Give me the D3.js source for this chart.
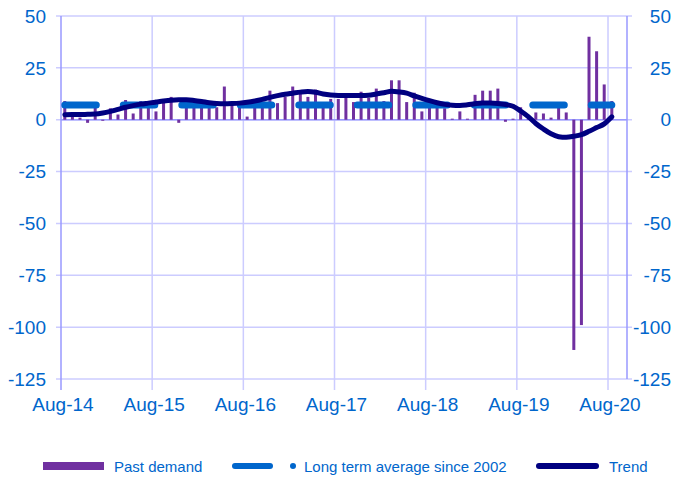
<!DOCTYPE html>
<html>
<head>
<meta charset="utf-8">
<script src="https://cdn.jsdelivr.net/npm/d3@7"></script>
<style>
body { margin: 0; background: #fff; }
text { font-family: "Liberation Sans", Arial, sans-serif; }
</style>
</head>
<body>
<svg id="chart" width="673" height="479"></svg>
<script>
var BAR_COLOR = "#7030a0";
var TREND_COLOR = "#000080";
var AVG_COLOR = "#0066cc";
var TEXT_COLOR = "#0066cc";
var GRID_COLOR = "#ccccff";
var AXIS_COLOR = "#9999ff";

// year labels, one every 12 months starting Aug-14
var tickLabels = ["Aug-14", "Aug-15", "Aug-16", "Aug-17", "Aug-18", "Aug-19", "Aug-20"];
var yTicks = [50, 25, 0, -25, -50, -75, -100, -125];

// monthly values, Aug-14 .. Aug-20
var pastDemand = [
  9, 2, 1, -1.5, 8, -0.5, 5.5, 2.5, 9.5, 3, 9, 9,
  4, 10, 11, -1.5, 7, 6, 6, 6, 6, 16, 7, 7,
  1.5, 7, 7, 14, 8, 11, 16, 13, 11, 14.5, 8, 10,
  10, 11, 8.5, 13.5, 10.5, 15, 9, 19, 19, 8.5, 13, 4,
  9.5, 7, 5.5, 0.5, 4, 0.5, 12, 14, 14, 15, -1, 0.5,
  6, 0.5, 3.5, 3, 1, 8, 3.5, -111, -99, 40, 33, 17,
  9
];
var trend = [
  2.4, 2.5, 2.5, 2.6, 2.7, 3.2, 4.0, 5.0, 6.0, 6.8, 7.5, 8.0,
  8.5, 9.0, 9.4, 9.6, 9.6, 9.3, 8.8, 8.2, 7.8, 7.7, 7.8, 8.0,
  8.4, 9.0, 9.8, 10.8, 11.6, 12.3, 12.8, 13.3, 13.6, 13.2, 12.4, 11.9,
  11.7, 11.7, 11.7, 11.7, 11.8, 12.4, 13.0, 13.7, 13.4, 12.8, 11.5, 10.3,
  9.2, 8.2, 7.4, 7.0, 6.9, 7.2, 7.7, 8.0, 8.0, 7.8, 7.3, 6.5,
  4.2, 1.5, -1.8, -4.5, -6.8, -8.2, -8.5, -8.0, -7.2, -5.6, -3.8, -2.0,
  1.4
];
var longTermAvg = 7.1;

var svg = d3.select("#chart");
var plotLeft = 61, plotRight = 627, plotTop = 16, plotBottom = 379;

var x = d3.scaleLinear().domain([-0.5, 74]).range([plotLeft, plotRight]);
var y = d3.scaleLinear().domain([-125, 50]).range([plotBottom, plotTop]);

// horizontal gridlines
svg.append("g").selectAll("line").data(yTicks).join("line")
  .attr("x1", plotLeft - 5).attr("x2", plotRight + 5)
  .attr("y1", function(d) { return y(d); }).attr("y2", function(d) { return y(d); })
  .attr("stroke", GRID_COLOR).attr("stroke-width", 1.5);

// vertical gridlines at each year
var yearPos = tickLabels.map(function(d, i) { return -0.5 + 12 * i; });
svg.append("g").selectAll("line").data(yearPos.slice(1)).join("line")
  .attr("x1", function(d) { return x(d); }).attr("x2", function(d) { return x(d); })
  .attr("y1", plotTop).attr("y2", plotBottom + 11)
  .attr("stroke", GRID_COLOR).attr("stroke-width", 1.5);

// axis lines
svg.append("line").attr("x1", plotLeft).attr("x2", plotLeft).attr("y1", plotTop).attr("y2", plotBottom + 11)
  .attr("stroke", AXIS_COLOR).attr("stroke-width", 1.5);
svg.append("line").attr("x1", plotRight).attr("x2", plotRight).attr("y1", plotTop).attr("y2", plotBottom)
  .attr("stroke", AXIS_COLOR).attr("stroke-width", 1.5);
svg.append("line").attr("x1", plotLeft).attr("x2", plotRight).attr("y1", y(0)).attr("y2", y(0))
  .attr("stroke", AXIS_COLOR).attr("stroke-width", 1.5);

// bars
svg.append("g").selectAll("rect").data(pastDemand).join("rect")
  .attr("x", function(d, i) { return x(i) - 1.5; })
  .attr("width", 3)
  .attr("y", function(d) { return y(Math.max(0, d)); })
  .attr("height", function(d) { return Math.abs(y(d) - y(0)); })
  .attr("fill", BAR_COLOR);

// long term average
svg.append("path")
  .datum(pastDemand)
  .attr("d", d3.line().x(function(d, i) { return x(i); }).y(function() { return y(longTermAvg); }))
  .attr("fill", "none")
  .attr("stroke", AVG_COLOR)
  .attr("stroke-width", 7)
  .attr("stroke-linecap", "round")
  .attr("stroke-dasharray", "31.5,27");

// trend
svg.append("path")
  .datum(trend)
  .attr("d", d3.line().x(function(d, i) { return x(i); }).y(function(d) { return y(d); }).curve(d3.curveMonotoneX))
  .attr("fill", "none")
  .attr("stroke", TREND_COLOR)
  .attr("stroke-width", 5)
  .attr("stroke-linejoin", "round")
  .attr("stroke-linecap", "round");

// y tick labels, both sides
svg.append("g").selectAll("text").data(yTicks).join("text")
  .attr("x", 46).attr("y", function(d) { return y(d); })
  .attr("dy", "0.35em").attr("text-anchor", "end")
  .attr("font-size", 19).attr("fill", TEXT_COLOR)
  .text(function(d) { return d; });
svg.append("g").selectAll("text").data(yTicks).join("text")
  .attr("x", 671).attr("y", function(d) { return y(d); })
  .attr("dy", "0.35em").attr("text-anchor", "end")
  .attr("font-size", 19).attr("fill", TEXT_COLOR)
  .text(function(d) { return d; });

// x tick labels
svg.append("g").selectAll("text").data(tickLabels).join("text")
  .attr("x", function(d, i) { return x(yearPos[i]) + 2; })
  .attr("y", 411)
  .attr("text-anchor", "middle")
  .attr("font-size", 19).attr("fill", TEXT_COLOR)
  .text(function(d) { return d; });

// legend
var lg = svg.append("g").attr("font-size", 15).attr("fill", TEXT_COLOR);
lg.append("rect").attr("x", 43).attr("y", 462).attr("width", 61).attr("height", 8).attr("fill", BAR_COLOR);
lg.append("text").attr("x", 114).attr("y", 472).text("Past demand");
lg.append("line").attr("x1", 235).attr("x2", 270).attr("y1", 466).attr("y2", 466)
  .attr("stroke", AVG_COLOR).attr("stroke-width", 6).attr("stroke-linecap", "round");
lg.append("circle").attr("cx", 293).attr("cy", 466).attr("r", 3).attr("fill", AVG_COLOR);
lg.append("text").attr("x", 304).attr("y", 472).text("Long term average since 2002");
lg.append("line").attr("x1", 539).attr("x2", 596).attr("y1", 466).attr("y2", 466)
  .attr("stroke", TREND_COLOR).attr("stroke-width", 6).attr("stroke-linecap", "round");
lg.append("text").attr("x", 609).attr("y", 472).text("Trend");
</script>
</body>
</html>
